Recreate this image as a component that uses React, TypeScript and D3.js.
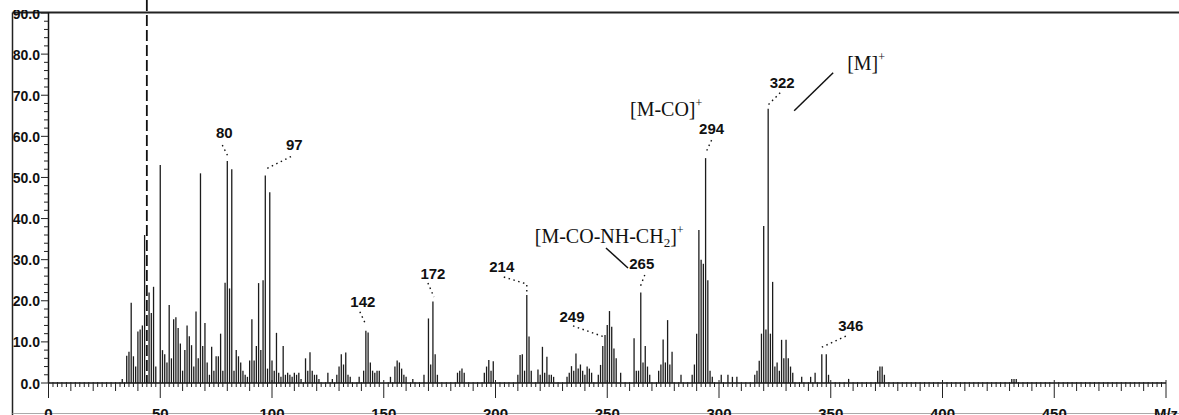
import React from "react";
import * as d3 from "d3";

// ---- data: [m/z, relative intensity %] ----
const peaksLow: [number, number][] = [
  [33, 1], [35, 6.6], [36, 7.6], [37, 19.5], [38, 6.5], [39, 4], [40, 12.5], [41, 13], [42, 14],
  [43, 36], [45, 22], [46, 17], [47, 23.4], [48, 4], [50, 53], [51, 8], [52, 7], [53, 5], [54, 19],
  [55, 6], [56, 15.5], [57, 16], [58, 13.4], [59, 9.6], [60, 3], [61, 8], [62, 14], [63, 11.4],
  [64, 9.2], [65, 4], [66, 17.4], [67, 6], [68, 51], [69, 9], [70, 14.6], [71, 5], [72, 2],
  [73, 8.8], [74, 3], [75, 6.5], [76, 6.5], [77, 12], [78, 3], [79, 24.4], [80, 54], [81, 23],
  [82, 52], [83, 3], [84, 8], [85, 6.5], [86, 5], [87, 3], [88, 2], [89, 1.5], [90, 5.5],
  [91, 15.5], [92, 5.5], [93, 9], [94, 24.3], [95, 8], [96, 25], [97, 50.5], [98, 3.5],
  [99, 46.4], [100, 5.5], [101, 3], [102, 12.2], [103, 2.5], [104, 1.5], [105, 9], [106, 2],
  [107, 2.5], [108, 2], [109, 1.5], [110, 2.5],
];
const peaksMid: [number, number][] = [
  [111, 2], [112, 2.5], [113, 1], [115, 6], [116, 3], [117, 7.5], [118, 3], [119, 2], [120, 2],
  [121, 1], [125, 2.5], [127, 1], [129, 2], [130, 4], [131, 7], [132, 4.5], [133, 7.4], [134, 2],
  [135, 1.5], [139, 1.5], [141, 3], [142, 12.7], [143, 12.3], [144, 5], [145, 3], [146, 2.5],
  [147, 3], [148, 3], [153, 1.5], [155, 4], [156, 5.5], [157, 5], [158, 3.5], [159, 2], [160, 1.5],
  [163, 1], [168, 2], [170, 15.7], [171, 4.5], [172, 19.8], [173, 7], [174, 2], [183, 2.5],
  [184, 3], [185, 3.5], [186, 2.5], [195, 2.5], [196, 4], [197, 5.6], [198, 3], [199, 5.3],
  [210, 2], [211, 6.8], [212, 7], [213, 3], [214, 21.4], [215, 11.3], [216, 3], [219, 3.3],
  [220, 2], [221, 8.8], [222, 2.5], [223, 6.4], [224, 2], [225, 2], [226, 1.5], [232, 1.5],
  [233, 2.5], [234, 4.1], [235, 3], [236, 7.2], [237, 3.5], [238, 4.5], [239, 3], [240, 2],
  [241, 4], [242, 3.5], [243, 2.5], [246, 2], [247, 4.4], [248, 9], [249, 11.7], [250, 14.1],
  [251, 17.5], [252, 13.7], [253, 8.4], [254, 6], [256, 2.5],
];
const peaksHigh: [number, number][] = [
  [262, 10.9], [263, 3], [264, 3], [265, 22], [266, 5], [267, 9], [268, 4], [269, 2], [273, 3],
  [274, 4.5], [275, 10.6], [276, 5], [277, 15.3], [278, 4.5], [279, 7.6], [283, 2], [288, 2],
  [289, 4.5], [290, 12], [291, 37.2], [292, 30], [293, 29], [294, 54.7], [295, 25], [296, 3],
  [297, 1.5], [301, 2], [304, 2], [306, 1.5], [308, 1.5], [316, 2], [317, 3], [318, 5.4],
  [319, 12], [320, 38.2], [321, 13], [322, 66.7], [323, 12], [324, 24.6], [325, 4], [326, 5],
  [327, 3], [328, 10.5], [329, 6], [330, 10.5], [331, 6], [332, 4], [333, 2.5], [337, 1.5],
  [341, 1.5], [343, 2.5], [346, 7], [348, 7], [349, 2], [358, 1], [371, 3], [372, 4], [373, 4],
  [374, 2], [431, 1], [432, 1], [433, 1],
];
const basePeakMz = 44; // off-scale base peak (dashed marker)
const labelMz = [80, 97, 142, 172, 214, 249, 265, 294, 322, 346];
const yTickValues = [0, 10, 20, 30, 40, 50, 60, 70, 80, 90];
const xTickValues = [0, 50, 100, 150, 200, 250, 300, 350, 400, 450, 500];
const xTickLabels = ["0", "50", "100", "150", "200", "250", "300", "350", "400", "450", "M/z"];

// ---- layout / styling (not data) ----
const W = 1179;
const H = 415;
const x = d3.scaleLinear().domain([0, 500]).range([48.5, 1166]);
const y = d3.scaleLinear().domain([0, 90]).range([383, 13]);

// label text offset and leader polyline relative to the labelled peak's top
const labelLayout: Record<number, { dx: number; dy: number; leader: [number, number][] }> = {
  80: { dx: -3, dy: -23, leader: [[-5, -16], [1, -4]] },
  97: { dx: 29, dy: -25, leader: [[2, -7], [28, -20]] },
  142: { dx: -3, dy: -24, leader: [[-6, -19], [0, -6]] },
  172: { dx: 0, dy: -22.6, leader: [[-5, -18.6], [1, -4.6]] },
  214: { dx: -25, dy: -23, leader: [[-23, -18], [0, -11], [0, -3]] },
  249: { dx: -33, dy: -13, leader: [[-32, -9], [-1, 2]] },
  265: { dx: 1, dy: -23.6, leader: [[4, -17.6], [-1, -4.6]] },
  294: { dx: 6, dy: -24, leader: [[6, -18], [0, -5]] },
  322: { dx: 14, dy: -21, leader: [[12, -16], [0, -4]] },
  346: { dx: 29, dy: -23, leader: [[0, -7], [26, -19]] },
};

const sansBold = "'Liberation Sans', Arial, sans-serif";
const narrowBold = "'Liberation Sans Narrow', 'Arial Narrow', 'Liberation Sans', sans-serif";
const serif = "'Liberation Serif', 'Times New Roman', serif";

export default function App() {
  const peaks = [...peaksLow, ...peaksMid, ...peaksHigh];
  const intensityOf = (m: number) => (peaks.find((p) => p[0] === m) || [m, 0])[1];
  const minorY = d3.range(0, 91, 2);
  const minorX = d3.range(0, 501, 2);
  const line = d3.line();

  const px = (m: number) => x(m);
  const top = (m: number) => y(intensityOf(m));

  return (
    <svg width={W} height={H} style={{ position: "absolute", left: 0, top: 0, background: "#fff" }}>
      <defs>
        <clipPath id="topclip">
          <rect x={0} y={10} width={W} height={H} />
        </clipPath>
      </defs>
      <rect x={0} y={0} width={W} height={H} fill="#fff" />
      {/* frame */}
      <line x1={12.5} y1={12.5} x2={W} y2={12.5} stroke="#222" strokeWidth={1.8} />
      <line x1={12.5} y1={12.5} x2={12.5} y2={H} stroke="#222" strokeWidth={1.5} />
      <line x1={12.5} y1={413.5} x2={W} y2={413.5} stroke="#aaa" strokeWidth={1} />

      {/* y axis */}
      <line x1={48.5} y1={12.5} x2={48.5} y2={y(0)} stroke="#111" strokeWidth={1.5} />
      {minorY.map((v) => (
        <line
          key={"ym" + v}
          x1={v % 10 === 0 ? 41 : 44}
          x2={48.5}
          y1={y(v)}
          y2={y(v)}
          stroke="#222"
          strokeWidth={1}
        />
      ))}
      <g clipPath="url(#topclip)">
        {yTickValues.map((v) => (
          <text
            key={"yl" + v}
            x={40}
            y={y(v) + 5.5}
            textAnchor="end"
            fontFamily={sansBold}
            fontWeight="bold"
            fontSize={14}
            fill="#111"
          >
            {v.toFixed(1)}
          </text>
        ))}
      </g>

      {/* x axis */}
      <line x1={x(0)} y1={y(0)} x2={x(500)} y2={y(0)} stroke="#111" strokeWidth={1.5} />
      {minorX.map((v) => {
        const len = v % 50 === 0 ? 15 : v % 10 === 0 ? 8 : 4;
        return (
          <line
            key={"xm" + v}
            x1={x(v)}
            x2={x(v)}
            y1={y(0) - (v % 50 === 0 ? 3 : 1)}
            y2={y(0) + len}
            stroke="#222"
            strokeWidth={1}
          />
        );
      })}
      {xTickValues.map((v, i) => (
        <text
          key={"xl" + v}
          x={x(v)}
          y={419}
          textAnchor="middle"
          fontFamily={sansBold}
          fontWeight="bold"
          fontSize={15}
          fill="#111"
        >
          {xTickLabels[i]}
        </text>
      ))}

      {/* base peak marker */}
      <line
        x1={x(basePeakMz)}
        x2={x(basePeakMz)}
        y1={0}
        y2={y(0)}
        stroke="#111"
        strokeWidth={1.8}
        strokeDasharray="11,4"
      />

      {/* peaks */}
      {peaks.map(([m, v]) => (
        <line
          key={"p" + m}
          x1={x(m)}
          x2={x(m)}
          y1={y(0)}
          y2={y(v)}
          stroke="#1c1c1c"
          strokeWidth={1.3}
        />
      ))}

      {/* peak labels */}
      {labelMz.map((m) => {
        const L = labelLayout[m];
        const cx = px(m);
        const cy = top(m);
        const pts = L.leader.map(([a, b]) => [cx + a, cy + b] as [number, number]);
        return (
          <g key={"lab" + m}>
            <path
              d={line(pts) || ""}
              fill="none"
              stroke="#111"
              strokeWidth={1.4}
              strokeDasharray="1.5,3.5"
            />
            <text
              x={cx + L.dx}
              y={cy + L.dy}
              textAnchor="middle"
              fontFamily={narrowBold}
              fontWeight="bold"
              fontSize={15}
              fill="#111"
            >
              {m}
            </text>
          </g>
        );
      })}

      {/* ion annotations */}
      <text x={px(322) + 79} y={top(322) - 39} fontFamily={serif} fontSize={20} fill="#111">
        [M]
        <tspan fontSize={12} dy={-9}>+</tspan>
      </text>
      <line
        x1={px(322) + 65}
        y1={top(322) - 36}
        x2={px(322) + 26}
        y2={top(322) + 2}
        stroke="#111"
        strokeWidth={1.5}
      />
      <text x={px(294) - 75.6} y={top(294) - 42} fontFamily={serif} fontSize={20} fill="#111">
        [M-CO]
        <tspan fontSize={12} dy={-9}>+</tspan>
      </text>
      <text x={px(265) - 106} y={top(265) - 49.6} fontFamily={serif} fontSize={20} fill="#111">
        [M-CO-NH-CH
        <tspan fontSize={13} dy={4}>2</tspan>
        <tspan dy={-4}>]</tspan>
        <tspan fontSize={12} dy={-9}>+</tspan>
      </text>
      <line
        x1={px(265) - 34.8}
        y1={top(265) - 44.6}
        x2={px(265) - 12.8}
        y2={top(265) - 24.6}
        stroke="#111"
        strokeWidth={1.5}
      />
    </svg>
  );
}
